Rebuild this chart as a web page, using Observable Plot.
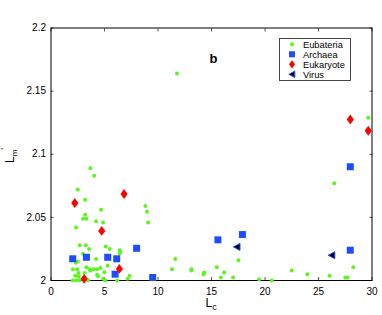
<!DOCTYPE html>
<html><head><meta charset="utf-8">
<script src="https://cdn.jsdelivr.net/npm/d3@7"></script>
<script src="https://cdn.jsdelivr.net/npm/@observablehq/plot@0.6"></script>
<style>body{margin:0;background:#fff} #chart{width:382px;height:315px}</style>
</head><body><div id="chart"></div>
<script>
const eubacteriaX = [11.77, 29.65, 26.47, 3.68, 4.03, 2.50, 3.19, 4.68, 3.19, 3.00, 3.31, 4.22, 4.87, 2.35, 8.82, 8.97, 9.07, 2.69, 3.25, 3.56, 5.11, 5.49, 6.42, 6.48, 6.42, 2.99, 4.22, 2.50, 2.33, 5.30, 2.05, 2.44, 3.31, 3.62, 3.99, 4.31, 4.62, 2.57, 3.15, 3.68, 4.99, 2.26, 4.31, 4.40, 2.59, 2.35, 2.66, 3.47, 4.87, 5.08, 6.18, 7.35, 7.16, 11.61, 11.31, 13.13, 13.13, 17.52, 15.50, 16.18, 14.32, 14.25, 15.88, 17.02, 19.45, 20.63, 22.50, 23.96, 26.04, 27.50, 27.72, 28.25, 2.03];
const eubacteriaY = [2.164, 2.129, 2.077, 2.089, 2.083, 2.072, 2.064, 2.056, 2.052, 2.049, 2.049, 2.047, 2.046, 2.042, 2.059, 2.0545, 2.046, 2.028, 2.028, 2.025, 2.027, 2.025, 2.024, 2.0227, 2.0213, 2.0212, 2.017, 2.015, 2.014, 2.0116, 2.009, 2.009, 2.0105, 2.009, 2.009, 2.009, 2.010, 2.006, 2.006, 2.008, 2.0066, 2.0037, 2.0045, 2.0034, 2.0032, 2.0002, 2.0002, 2.0002, 2.0013, 2.0, 2.0, 2.0037, 2.0013, 2.017, 2.009, 2.009, 2.008, 2.016, 2.0105, 2.0063, 2.0063, 2.005, 2.0024, 2.0024, 2.001, 2.0, 2.008, 2.005, 2.0037, 2.0024, 2.0024, 2.0105, 2.0];
const archaeaX = [2.03, 3.31, 5.30, 6.14, 8.00, 5.99, 9.50, 15.60, 17.89, 27.97, 27.97];
const archaeaY = [2.0172, 2.0184, 2.0184, 2.0172, 2.0255, 2.0050, 2.0024, 2.0322, 2.0364, 2.0901, 2.0240];
const eukaryoteX = [2.22, 6.83, 4.74, 6.39, 3.10, 27.97, 29.65];
const eukaryoteY = [2.0614, 2.0685, 2.0393, 2.0092, 2.0013, 2.1275, 2.1186];
const virusX = [17.37, 26.23];
const virusY = [2.0266, 2.0200];
const xTicks = [0, 5, 10, 15, 20, 25, 30];
const yTicks = [2, 2.05, 2.1, 2.15, 2.2];
const seriesNames = ["Eubateria", "Archaea", "Eukaryote", "Virus"];

const toRows = (xs, ys) => xs.map((x, i) => ({x, y: ys[i]}));

const sq = {draw(c, size){const r = Math.sqrt(size/Math.PI); c.moveTo(-r,-r); c.lineTo(r,-r); c.lineTo(r,r); c.lineTo(-r,r); c.closePath();}};
const diamond = {draw(c, size){const r = Math.sqrt(size/Math.PI); c.moveTo(0,-r*1.6); c.lineTo(r*1.15,0); c.lineTo(0,r*1.6); c.lineTo(-r*1.15,0); c.closePath();}};
const triLeft = {draw(c, size){const r = Math.sqrt(size/Math.PI); c.moveTo(-r,0); c.lineTo(r*0.9,-r); c.lineTo(r*0.9,r); c.closePath();}};

const green = "#5cf51f", blue = "#1f4cff", red = "#ff0000";
const FONT = "'Liberation Sans', Arial, sans-serif";

const tickOpts = {ticks: xTicks, tickSize: 3, tickFormat: () => "", label: null, stroke: "#555"};
const tickOptsY = {ticks: yTicks, tickSize: 3, tickFormat: () => "", label: null, stroke: "#555"};

const plot = Plot.plot({
  width: 382, height: 315,
  marginLeft: 50.5, marginRight: 10.5, marginTop: 27.5, marginBottom: 35,
  x: {domain: [0, 30]},
  y: {domain: [2, 2.2]},
  style: {fontFamily: FONT, fontSize: "10px", color: "black", background: "white"},
  marks: [
    Plot.axisX({ticks: xTicks, tickSize: 0, tickPadding: 7, label: null, tickFormat: d => String(d)}),
    Plot.axisY({ticks: yTicks, tickSize: 0, tickPadding: 5, label: null, tickFormat: d => String(d)}),
    Plot.axisX({...tickOpts, anchor: "bottom", dy: -3}),
    Plot.axisX({...tickOpts, anchor: "top", dy: 3}),
    Plot.axisY({...tickOptsY, anchor: "left", dx: 3}),
    Plot.axisY({...tickOptsY, anchor: "right", dx: -3}),
    Plot.frame({stroke: "black", strokeWidth: 1}),
    Plot.dot(toRows(eubacteriaX, eubacteriaY), {x: "x", y: "y", r: 2, fill: green, stroke: "none"}),
    Plot.dot(toRows(archaeaX, archaeaY), {x: "x", y: "y", r: 3.5, symbol: sq, fill: blue, stroke: "none"}),
    Plot.dot(toRows(eukaryoteX, eukaryoteY), {x: "x", y: "y", r: 3.1, symbol: diamond, fill: red, stroke: "none"}),
    Plot.dot(toRows(virusX, virusY), {x: "x", y: "y", r: 3.5, symbol: triLeft, fill: "black", stroke: blue, strokeWidth: 1}),
    Plot.text(["b"], {frameAnchor: "top-left", dx: 158.5, dy: 26, fontWeight: "bold", fontSize: 13, textAnchor: "start", lineAnchor: "top"})
  ]
});
document.getElementById("chart").appendChild(plot);

const svg = d3.select(plot);
// legend
const lg = svg.append("g").attr("text-anchor", "start");
lg.append("rect").attr("x", 279.5).attr("y", 38.5).attr("width", 71).attr("height", 42)
  .attr("fill", "white").attr("stroke", "#333").attr("stroke-width", 0.9);
const legendSyms = [
  {sym: d3.symbolCircle, size: Math.PI*4, fill: green, stroke: "none"},
  {sym: sq, size: Math.PI*3.5*3.5*0.75, fill: blue, stroke: "none"},
  {sym: diamond, size: Math.PI*9*0.75, fill: red, stroke: "none"},
  {sym: triLeft, size: Math.PI*3.5*3.5*0.8, fill: "black", stroke: blue}
];
seriesNames.forEach((name, i) => {
  const cy = 44.3 + i * 10;
  const s = legendSyms[i];
  lg.append("path").attr("transform", `translate(292,${cy})`).attr("d", d3.symbol(s.sym, s.size)())
    .attr("fill", s.fill).attr("stroke", s.stroke);
  lg.append("text").attr("x", 303).attr("y", cy).attr("dy", "0.35em").attr("text-anchor", "start")
    .attr("font-size", 9.3).attr("font-family", FONT).text(name);
});
// axis labels
const yl = svg.append("text").attr("transform", "translate(13.5,163) rotate(-90)").attr("text-anchor", "start")
  .attr("font-size", 12).attr("font-family", FONT);
yl.append("tspan").text("L");
yl.append("tspan").attr("font-size", 8).attr("dy", 3).text("m");
yl.append("tspan").attr("font-size", 9).attr("dy", -10).text("'");
const xl = svg.append("text").attr("x", 205.5).attr("y", 306.5).attr("text-anchor", "start")
  .attr("font-size", 12).attr("font-family", FONT);
xl.append("tspan").text("L");
xl.append("tspan").attr("font-size", 9).attr("dy", 3).text("c");
</script>
</body></html>
